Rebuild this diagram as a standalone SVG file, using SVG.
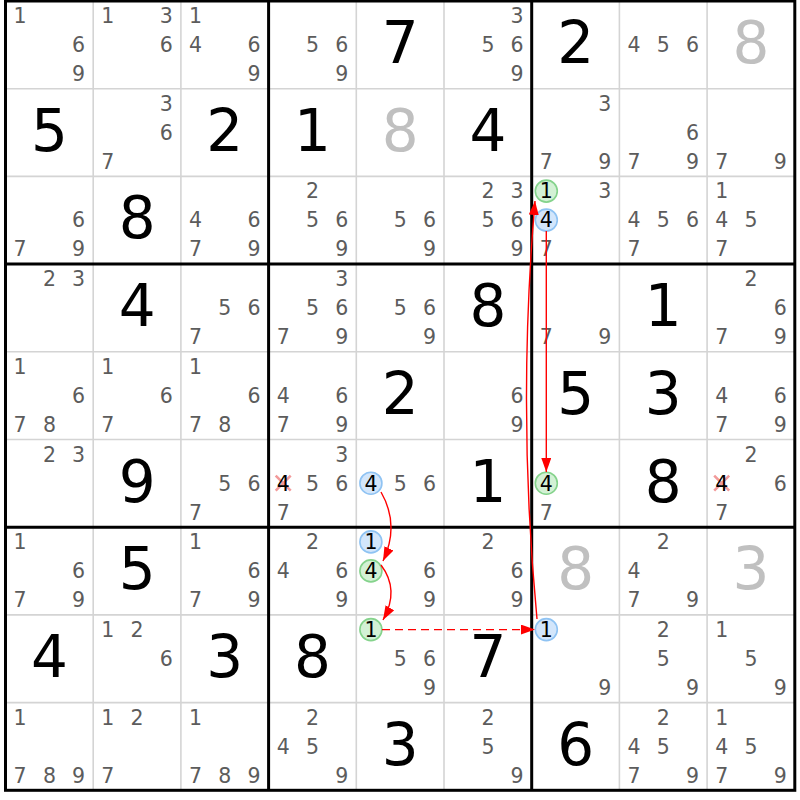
<svg xmlns="http://www.w3.org/2000/svg" width="800" height="800" viewBox="0 0 800 800">
<style>
text{font-family:"DejaVu Sans",Verdana,sans-serif}
.c{font-size:20.5px;fill:#5c5c5c;text-anchor:middle}
.k{fill:#000}
.g{font-size:58px;fill:#000;text-anchor:middle}
.s{fill:#c0c0c0}
.thin{stroke:#d4d4d4;stroke-width:1.6}
.thick{stroke:#000;stroke-width:3}
.cb{fill:#d3e6fb;stroke:#8fc3f3;stroke-width:1.6}
.cg{fill:#d3f1d5;stroke:#85d38c;stroke-width:1.6}
.x{stroke:#f29a9a;stroke-width:2.6}
.arr{fill:none;stroke:#f00;stroke-width:1.4}
</style>
<defs>
<marker id="ah" markerUnits="userSpaceOnUse" markerWidth="14" markerHeight="10" refX="14" refY="5" orient="auto">
<path d="M0,0 L14,5 L0,10 z" fill="#f00"/>
</marker>
</defs>
<rect width="800" height="800" fill="#fff"/>
<g id="grid">
<path class="thin" d="M93.2 1V790.3M180.9 1V790.3M356.3 1V790.3M444 1V790.3M619.4 1V790.3M707.1 1V790.3M5.5 88.7H794.8M5.5 176.4H794.8M5.5 351.8H794.8M5.5 439.5H794.8M5.5 614.9H794.8M5.5 702.6H794.8"/>
<path class="thick" d="M268.6 1V790.3M531.7 1V790.3M5.5 264.1H794.8M5.5 527.2H794.8"/>
<rect x="5.5" y="1" width="789.3" height="789.3" fill="none" stroke="#000" stroke-width="3"/>
</g>
<g id="marks">
<circle class="cg" cx="546.3" cy="191.1" r="11"/>
<circle class="cb" cx="546.3" cy="220.1" r="11"/>
<circle class="cb" cx="370.9" cy="483.2" r="11"/>
<circle class="cg" cx="546.3" cy="483.2" r="11"/>
<circle class="cb" cx="370.9" cy="541.9" r="11"/>
<circle class="cg" cx="370.9" cy="570.9" r="11"/>
<circle class="cg" cx="370.9" cy="629.6" r="11"/>
<circle class="cb" cx="546.3" cy="629.6" r="11"/>
<path class="x" d="M275.7 475.7l15 15M290.7 475.7l-15 15M714.2 475.7l15 15M729.2 475.7l-15 15"/>
</g>
<g id="r0c0"><text class="c" x="20.1" y="23">1</text><text class="c" x="78.6" y="52">6</text><text class="c" x="78.6" y="81">9</text></g>
<g id="r0c1"><text class="c" x="107.8" y="23">1</text><text class="c" x="166.3" y="23">3</text><text class="c" x="166.3" y="52">6</text></g>
<g id="r0c2"><text class="c" x="195.5" y="23">1</text><text class="c" x="195.5" y="52">4</text><text class="c" x="254" y="52">6</text><text class="c" x="254" y="81">9</text></g>
<g id="r0c3"><text class="c" x="312.5" y="52">5</text><text class="c" x="341.7" y="52">6</text><text class="c" x="341.7" y="81">9</text></g>
<g id="r0c4"><text class="g" x="400.2" y="63">7</text></g>
<g id="r0c5"><text class="c" x="517.1" y="23">3</text><text class="c" x="487.9" y="52">5</text><text class="c" x="517.1" y="52">6</text><text class="c" x="517.1" y="81">9</text></g>
<g id="r0c6"><text class="g" x="575.6" y="63">2</text></g>
<g id="r0c7"><text class="c" x="634" y="52">4</text><text class="c" x="663.3" y="52">5</text><text class="c" x="692.5" y="52">6</text></g>
<g id="r0c8"><text class="g s" x="751" y="63">8</text></g>

<g id="r1c0"><text class="g" x="49.4" y="150.7">5</text></g>
<g id="r1c1"><text class="c" x="166.3" y="110.7">3</text><text class="c" x="166.3" y="139.7">6</text><text class="c" x="107.8" y="168.7">7</text></g>
<g id="r1c2"><text class="g" x="224.8" y="150.7">2</text></g>
<g id="r1c3"><text class="g" x="312.5" y="150.7">1</text></g>
<g id="r1c4"><text class="g s" x="400.2" y="150.7">8</text></g>
<g id="r1c5"><text class="g" x="487.9" y="150.7">4</text></g>
<g id="r1c6"><text class="c" x="604.8" y="110.7">3</text><text class="c" x="546.3" y="168.7">7</text><text class="c" x="604.8" y="168.7">9</text></g>
<g id="r1c7"><text class="c" x="692.5" y="139.7">6</text><text class="c" x="634" y="168.7">7</text><text class="c" x="692.5" y="168.7">9</text></g>
<g id="r1c8"><text class="c" x="721.7" y="168.7">7</text><text class="c" x="780.2" y="168.7">9</text></g>

<g id="r2c0"><text class="c" x="78.6" y="227.4">6</text><text class="c" x="20.1" y="256.4">7</text><text class="c" x="78.6" y="256.4">9</text></g>
<g id="r2c1"><text class="g" x="137.1" y="238.4">8</text></g>
<g id="r2c2"><text class="c" x="195.5" y="227.4">4</text><text class="c" x="254" y="227.4">6</text><text class="c" x="195.5" y="256.4">7</text><text class="c" x="254" y="256.4">9</text></g>
<g id="r2c3"><text class="c" x="312.5" y="198.4">2</text><text class="c" x="312.5" y="227.4">5</text><text class="c" x="341.7" y="227.4">6</text><text class="c" x="341.7" y="256.4">9</text></g>
<g id="r2c4"><text class="c" x="400.2" y="227.4">5</text><text class="c" x="429.4" y="227.4">6</text><text class="c" x="429.4" y="256.4">9</text></g>
<g id="r2c5"><text class="c" x="487.9" y="198.4">2</text><text class="c" x="517.1" y="198.4">3</text><text class="c" x="487.9" y="227.4">5</text><text class="c" x="517.1" y="227.4">6</text><text class="c" x="517.1" y="256.4">9</text></g>
<g id="r2c6"><text class="c k" x="546.3" y="198.4">1</text><text class="c" x="604.8" y="198.4">3</text><text class="c k" x="546.3" y="227.4">4</text><text class="c" x="546.3" y="256.4">7</text></g>
<g id="r2c7"><text class="c" x="634" y="227.4">4</text><text class="c" x="663.3" y="227.4">5</text><text class="c" x="692.5" y="227.4">6</text><text class="c" x="634" y="256.4">7</text></g>
<g id="r2c8"><text class="c" x="721.7" y="198.4">1</text><text class="c" x="721.7" y="227.4">4</text><text class="c" x="751" y="227.4">5</text><text class="c" x="721.7" y="256.4">7</text></g>

<g id="r3c0"><text class="c" x="49.4" y="286.1">2</text><text class="c" x="78.6" y="286.1">3</text></g>
<g id="r3c1"><text class="g" x="137.1" y="326.1">4</text></g>
<g id="r3c2"><text class="c" x="224.8" y="315.1">5</text><text class="c" x="254" y="315.1">6</text><text class="c" x="195.5" y="344.1">7</text></g>
<g id="r3c3"><text class="c" x="341.7" y="286.1">3</text><text class="c" x="312.5" y="315.1">5</text><text class="c" x="341.7" y="315.1">6</text><text class="c" x="283.2" y="344.1">7</text><text class="c" x="341.7" y="344.1">9</text></g>
<g id="r3c4"><text class="c" x="400.2" y="315.1">5</text><text class="c" x="429.4" y="315.1">6</text><text class="c" x="429.4" y="344.1">9</text></g>
<g id="r3c5"><text class="g" x="487.9" y="326.1">8</text></g>
<g id="r3c6"><text class="c" x="546.3" y="344.1">7</text><text class="c" x="604.8" y="344.1">9</text></g>
<g id="r3c7"><text class="g" x="663.3" y="326.1">1</text></g>
<g id="r3c8"><text class="c" x="751" y="286.1">2</text><text class="c" x="780.2" y="315.1">6</text><text class="c" x="721.7" y="344.1">7</text><text class="c" x="780.2" y="344.1">9</text></g>

<g id="r4c0"><text class="c" x="20.1" y="373.8">1</text><text class="c" x="78.6" y="402.8">6</text><text class="c" x="20.1" y="431.8">7</text><text class="c" x="49.4" y="431.8">8</text></g>
<g id="r4c1"><text class="c" x="107.8" y="373.8">1</text><text class="c" x="166.3" y="402.8">6</text><text class="c" x="107.8" y="431.8">7</text></g>
<g id="r4c2"><text class="c" x="195.5" y="373.8">1</text><text class="c" x="254" y="402.8">6</text><text class="c" x="195.5" y="431.8">7</text><text class="c" x="224.8" y="431.8">8</text></g>
<g id="r4c3"><text class="c" x="283.2" y="402.8">4</text><text class="c" x="341.7" y="402.8">6</text><text class="c" x="283.2" y="431.8">7</text><text class="c" x="341.7" y="431.8">9</text></g>
<g id="r4c4"><text class="g" x="400.2" y="413.8">2</text></g>
<g id="r4c5"><text class="c" x="517.1" y="402.8">6</text><text class="c" x="517.1" y="431.8">9</text></g>
<g id="r4c6"><text class="g" x="575.6" y="413.8">5</text></g>
<g id="r4c7"><text class="g" x="663.3" y="413.8">3</text></g>
<g id="r4c8"><text class="c" x="721.7" y="402.8">4</text><text class="c" x="780.2" y="402.8">6</text><text class="c" x="721.7" y="431.8">7</text><text class="c" x="780.2" y="431.8">9</text></g>

<g id="r5c0"><text class="c" x="49.4" y="461.5">2</text><text class="c" x="78.6" y="461.5">3</text></g>
<g id="r5c1"><text class="g" x="137.1" y="501.5">9</text></g>
<g id="r5c2"><text class="c" x="224.8" y="490.5">5</text><text class="c" x="254" y="490.5">6</text><text class="c" x="195.5" y="519.5">7</text></g>
<g id="r5c3"><text class="c" x="341.7" y="461.5">3</text><text class="c k" x="283.2" y="490.5">4</text><text class="c" x="312.5" y="490.5">5</text><text class="c" x="341.7" y="490.5">6</text><text class="c" x="283.2" y="519.5">7</text></g>
<g id="r5c4"><text class="c k" x="370.9" y="490.5">4</text><text class="c" x="400.2" y="490.5">5</text><text class="c" x="429.4" y="490.5">6</text></g>
<g id="r5c5"><text class="g" x="487.9" y="501.5">1</text></g>
<g id="r5c6"><text class="c k" x="546.3" y="490.5">4</text><text class="c" x="546.3" y="519.5">7</text></g>
<g id="r5c7"><text class="g" x="663.3" y="501.5">8</text></g>
<g id="r5c8"><text class="c" x="751" y="461.5">2</text><text class="c k" x="721.7" y="490.5">4</text><text class="c" x="780.2" y="490.5">6</text><text class="c" x="721.7" y="519.5">7</text></g>

<g id="r6c0"><text class="c" x="20.1" y="549.2">1</text><text class="c" x="78.6" y="578.2">6</text><text class="c" x="20.1" y="607.2">7</text><text class="c" x="78.6" y="607.2">9</text></g>
<g id="r6c1"><text class="g" x="137.1" y="589.2">5</text></g>
<g id="r6c2"><text class="c" x="195.5" y="549.2">1</text><text class="c" x="254" y="578.2">6</text><text class="c" x="195.5" y="607.2">7</text><text class="c" x="254" y="607.2">9</text></g>
<g id="r6c3"><text class="c" x="312.5" y="549.2">2</text><text class="c" x="283.2" y="578.2">4</text><text class="c" x="341.7" y="578.2">6</text><text class="c" x="341.7" y="607.2">9</text></g>
<g id="r6c4"><text class="c k" x="370.9" y="549.2">1</text><text class="c k" x="370.9" y="578.2">4</text><text class="c" x="429.4" y="578.2">6</text><text class="c" x="429.4" y="607.2">9</text></g>
<g id="r6c5"><text class="c" x="487.9" y="549.2">2</text><text class="c" x="517.1" y="578.2">6</text><text class="c" x="517.1" y="607.2">9</text></g>
<g id="r6c6"><text class="g s" x="575.6" y="589.2">8</text></g>
<g id="r6c7"><text class="c" x="663.3" y="549.2">2</text><text class="c" x="634" y="578.2">4</text><text class="c" x="634" y="607.2">7</text><text class="c" x="692.5" y="607.2">9</text></g>
<g id="r6c8"><text class="g s" x="751" y="589.2">3</text></g>

<g id="r7c0"><text class="g" x="49.4" y="676.9">4</text></g>
<g id="r7c1"><text class="c" x="107.8" y="636.9">1</text><text class="c" x="137.1" y="636.9">2</text><text class="c" x="166.3" y="665.9">6</text></g>
<g id="r7c2"><text class="g" x="224.8" y="676.9">3</text></g>
<g id="r7c3"><text class="g" x="312.5" y="676.9">8</text></g>
<g id="r7c4"><text class="c k" x="370.9" y="636.9">1</text><text class="c" x="400.2" y="665.9">5</text><text class="c" x="429.4" y="665.9">6</text><text class="c" x="429.4" y="694.9">9</text></g>
<g id="r7c5"><text class="g" x="487.9" y="676.9">7</text></g>
<g id="r7c6"><text class="c k" x="546.3" y="636.9">1</text><text class="c" x="604.8" y="694.9">9</text></g>
<g id="r7c7"><text class="c" x="663.3" y="636.9">2</text><text class="c" x="663.3" y="665.9">5</text><text class="c" x="692.5" y="694.9">9</text></g>
<g id="r7c8"><text class="c" x="721.7" y="636.9">1</text><text class="c" x="751" y="665.9">5</text><text class="c" x="780.2" y="694.9">9</text></g>

<g id="r8c0"><text class="c" x="20.1" y="724.6">1</text><text class="c" x="20.1" y="782.6">7</text><text class="c" x="49.4" y="782.6">8</text><text class="c" x="78.6" y="782.6">9</text></g>
<g id="r8c1"><text class="c" x="107.8" y="724.6">1</text><text class="c" x="137.1" y="724.6">2</text><text class="c" x="107.8" y="782.6">7</text></g>
<g id="r8c2"><text class="c" x="195.5" y="724.6">1</text><text class="c" x="195.5" y="782.6">7</text><text class="c" x="224.8" y="782.6">8</text><text class="c" x="254" y="782.6">9</text></g>
<g id="r8c3"><text class="c" x="312.5" y="724.6">2</text><text class="c" x="283.2" y="753.6">4</text><text class="c" x="312.5" y="753.6">5</text><text class="c" x="341.7" y="782.6">9</text></g>
<g id="r8c4"><text class="g" x="400.2" y="764.6">3</text></g>
<g id="r8c5"><text class="c" x="487.9" y="724.6">2</text><text class="c" x="487.9" y="753.6">5</text><text class="c" x="517.1" y="782.6">9</text></g>
<g id="r8c6"><text class="g" x="575.6" y="764.6">6</text></g>
<g id="r8c7"><text class="c" x="663.3" y="724.6">2</text><text class="c" x="634" y="753.6">4</text><text class="c" x="663.3" y="753.6">5</text><text class="c" x="634" y="782.6">7</text><text class="c" x="692.5" y="782.6">9</text></g>
<g id="r8c8"><text class="c" x="721.7" y="724.6">1</text><text class="c" x="721.7" y="753.6">4</text><text class="c" x="751" y="753.6">5</text><text class="c" x="721.7" y="782.6">7</text><text class="c" x="780.2" y="782.6">9</text></g>

<g id="connectors">
<path class="arr" d="M381 492 Q400 525 383 561" marker-end="url(#ah)"/>
<path class="arr" d="M381 565 Q400 590 383 620" marker-end="url(#ah)"/>
<path class="arr" d="M382 629.6 L535 629.6" stroke-width="1.5" stroke-dasharray="8 5" marker-end="url(#ah)"/>
<path class="arr" d="M537 619 Q517 410 535 201" marker-end="url(#ah)"/>
<path class="arr" d="M546.3 231 L546.3 472" stroke-width="1" marker-end="url(#ah)"/>
</g>
</svg>
